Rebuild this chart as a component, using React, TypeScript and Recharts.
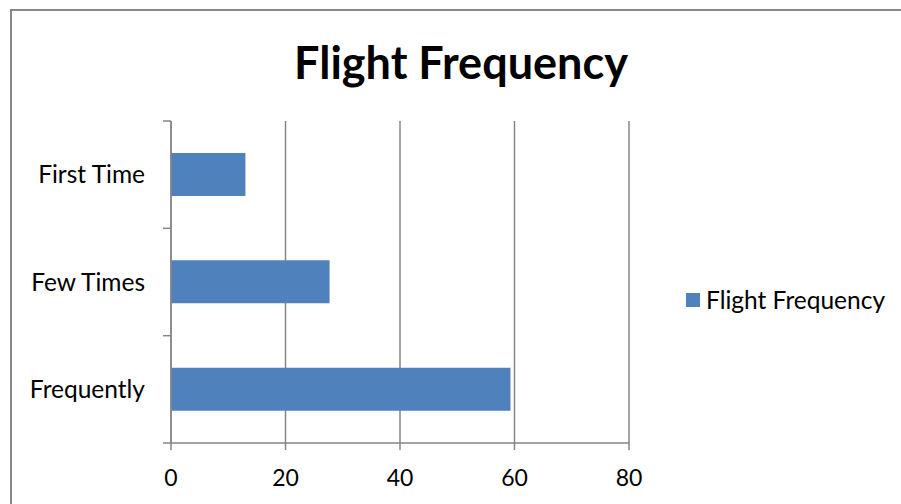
import React from 'react';
import { BarChart, Bar, XAxis, YAxis, CartesianGrid, Legend } from 'recharts';

const categories = ['First Time', 'Few Times', 'Frequently'];
const flightFrequency = [13, 27.7, 59.3];
const xTicks = [0, 20, 40, 60, 80];
const seriesName = 'Flight Frequency';
const chartTitle = 'Flight Frequency';

const data = categories.map((name, i) => ({ name, value: flightFrequency[i] }));

const FONT = 'Lato, "Open Sans", sans-serif';
const BAR_COLOR = '#4F81BD';
const LINE_COLOR = '#868686';

const CHART_W = 901;
const CHART_H = 504;
const MARGIN = { top: 121, right: 272, bottom: 21, left: 0 };
const X_AXIS_H = 40;
const Y_AXIS_W = 171;
const Y_TICK_SIZE = 6;
const Y_TICK_MARGIN = 20;
const EDGE_TICK_LEN = 8;
const PLOT_H = CHART_H - MARGIN.top - MARGIN.bottom - X_AXIS_H;
const BAND = PLOT_H / categories.length;

// Category label, with tick marks on the band boundaries rather than the band centre.
const CategoryTick = (props: any) => {
  const { x, y, payload, index } = props;
  const axisX = x + Y_TICK_SIZE + Y_TICK_MARGIN;
  const edges = [y - BAND / 2];
  if (index === categories.length - 1) edges.push(y + BAND / 2);
  return (
    <g>
      {edges.map((ey, i) => (
        <line key={i} x1={axisX - EDGE_TICK_LEN} x2={axisX} y1={ey} y2={ey} stroke={LINE_COLOR} strokeWidth={1.5} />
      ))}
      <text x={x} y={y} dy="0.355em" textAnchor="end" fill="#000" fontSize={24.5} fontFamily={FONT}>
        {payload.value}
      </text>
    </g>
  );
};

const LegendContent = () => (
  <div style={{ display: 'flex', alignItems: 'center', fontFamily: FONT, fontSize: 24.5, color: '#000', whiteSpace: 'nowrap' }}>
    <span style={{ display: 'inline-block', width: 14, height: 14, background: BAR_COLOR, marginRight: 6 }} />
    <span>{seriesName}</span>
  </div>
);

export default function App() {
  return (
    <div style={{ position: 'fixed', left: 0, top: 0, width: CHART_W, height: CHART_H, background: '#fff', overflow: 'hidden' }}>
      <div
        style={{
          position: 'absolute',
          left: 10,
          top: 9,
          width: 891,
          height: 495,
          borderTop: '2px solid #878787',
          borderLeft: '2px solid #878787',
          boxSizing: 'border-box',
        }}
      />
      <div
        style={{
          position: 'absolute',
          left: 0,
          top: 34,
          width: 922,
          textAlign: 'center',
          fontFamily: FONT,
          fontWeight: 700,
          fontSize: 45,
          color: '#000',
          lineHeight: '56px',
          whiteSpace: 'nowrap',
        }}
      >
        {chartTitle}
      </div>
      <div style={{ position: 'absolute', left: 0, top: 0 }}>
        <BarChart width={CHART_W} height={CHART_H} data={data} layout="vertical" margin={MARGIN}>
          <CartesianGrid vertical horizontal={false} stroke={LINE_COLOR} strokeWidth={1.5} />
          <XAxis
            type="number"
            dataKey="value"
            domain={[0, 80]}
            ticks={xTicks}
            interval={0}
            height={X_AXIS_H}
            tickSize={7}
            tickMargin={20}
            axisLine={{ stroke: LINE_COLOR, strokeWidth: 1.5 }}
            tickLine={{ stroke: LINE_COLOR, strokeWidth: 1.5 }}
            tick={{ fill: '#000', fontSize: 23, fontFamily: FONT }}
          />
          <YAxis
            type="category"
            dataKey="name"
            width={Y_AXIS_W}
            tickLine={false}
            tickSize={Y_TICK_SIZE}
            tickMargin={Y_TICK_MARGIN}
            interval={0}
            axisLine={{ stroke: LINE_COLOR, strokeWidth: 1.5 }}
            tick={<CategoryTick />}
          />
          <Legend
            layout="horizontal"
            verticalAlign="middle"
            align="center"
            content={<LegendContent />}
            wrapperStyle={{ left: 686, top: 285, width: 215, height: 32 }}
          />
          <Bar dataKey="value" name={seriesName} fill={BAR_COLOR} barSize={43} isAnimationActive={false} />
        </BarChart>
      </div>
    </div>
  );
}
